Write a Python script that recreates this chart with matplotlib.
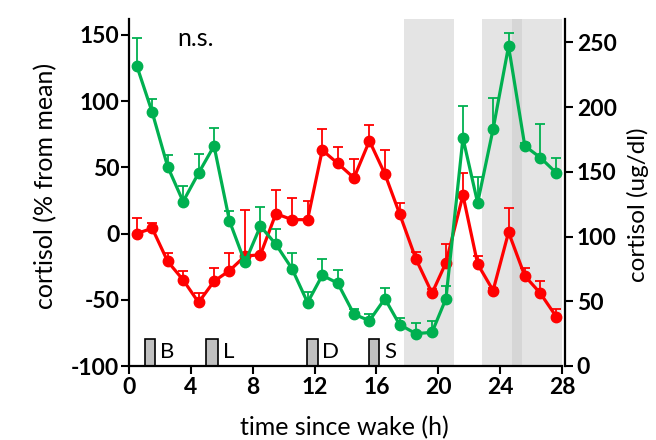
import numpy as np
import matplotlib.pyplot as plt
from matplotlib.patches import Rectangle

plt.rcParams['font.family'] = ['Lato', 'DejaVu Sans']
plt.rcParams['axes.unicode_minus'] = False

# time points (h since wake)
hours = [0.5, 1.5, 2.5, 3.5, 4.5, 5.5, 6.5, 7.5, 8.5, 9.5, 10.55, 11.55, 12.5, 13.5,
         14.55, 15.55, 16.55, 17.5, 18.55, 19.6, 20.5, 21.6, 22.55, 23.55, 24.55, 25.6, 26.6, 27.65]

# cortisol, % from mean (left axis, red)
pct_mean = [0, 4, -21, -35, -52, -36, -28, -17, -16, 15, 10.5, 10.5, 63, 53,
            42, 70, 45, 15, -19, -45, -22, 29, -23, -43, 1, -32, -45, -63]
pct_err = [12, 4, 6, 7, 7, 10, 13, 35, 21, 18, 16, 14, 16, 12,
           14, 12, 18, 8, 5, 3, 14, 17, 6, 2, 18, 6, 9, 6]

# cortisol, ug/dl (right axis, green)
ugdl = [232, 196, 154, 127, 149, 170, 112, 80, 108, 94, 75, 49, 70, 64,
        40, 35, 52, 32, 25, 26, 52, 176, 126, 183, 247, 170, 161, 149]
ugdl_err = [21, 10, 9, 12, 15, 14, 8, 4, 15, 12, 12, 8, 13, 10,
            4, 5, 8, 5, 8, 9, 10, 25, 20, 24, 10, 2, 26, 12]

# shaded (sleep) periods
sleep_start = [17.8, 22.85, 24.75]
sleep_end = [21.0, 25.45, 28.0]

# meals
meal_labels = ['B', 'L', 'D', 'S']
meal_start = [1.05, 5.0, 11.5, 15.5]
meal_end = [1.7, 5.75, 12.2, 16.2]

fig = plt.figure(figsize=(6.56, 4.4), dpi=100)
ax = fig.add_axes([129 / 656, 74 / 440, 436 / 656, 347 / 440])
ax2 = ax.twinx()

# shading
for s, e in zip(sleep_start, sleep_end):
    ax.axvspan(s, e, color='#e4e4e4', lw=0, zorder=0)
for i in range(len(sleep_start) - 1):
    lo = max(sleep_start[i], sleep_start[i + 1])
    hi = min(sleep_end[i], sleep_end[i + 1])
    if hi > lo:
        ax.axvspan(lo, hi, color='#d6d6d6', lw=0, zorder=0)

# meal boxes
for lab, s, e in zip(meal_labels, meal_start, meal_end):
    ax.add_patch(Rectangle((s, -100), e - s, 20.5, facecolor='#c0c0c0',
                           edgecolor='black', lw=1.2, zorder=2, clip_on=False))
    ax.text(e + 0.3, -89.5, lab, fontsize=16, va='center', ha='left')

red = '#ff0000'
green = '#00b050'
ax.errorbar(hours, pct_mean, yerr=[np.zeros(len(pct_err)), pct_err], color=red,
            lw=2.3, marker='o', ms=7.5, elinewidth=1.3, capsize=3.5, capthick=1.3,
            zorder=3)
ax2.errorbar(hours, ugdl, yerr=[np.zeros(len(ugdl_err)), ugdl_err], color=green,
             lw=2.3, marker='o', ms=7.5, elinewidth=1.3, capsize=3.5, capthick=1.3,
             zorder=3)

ax.text(3.1, 147, 'n.s.', fontsize=18, va='center', ha='left')

ax.set_xlim(0, 28.2)
ax.set_ylim(-100, 162)
ax2.set_ylim(0, 268)

ax.set_xticks(range(0, 29, 4))
ax.set_yticks([-100, -50, 0, 50, 100, 150])
ax2.set_yticks([0, 50, 100, 150, 200, 250])

for a in (ax, ax2):
    a.tick_params(direction='out', length=5.5, width=1.5, labelsize=16.5)
    for lab in a.get_xticklabels() + a.get_yticklabels():
        lab.set_fontweight('bold')
    for sp in a.spines.values():
        sp.set_linewidth(1.6)
ax.tick_params(axis='y', pad=1.5)
ax.tick_params(axis='x', pad=2.5)
ax2.tick_params(axis='y', pad=3)

ax.spines['top'].set_visible(False)
ax.spines['right'].set_visible(False)
ax.spines['bottom'].set_bounds(0, 28)
ax2.spines['top'].set_visible(False)
ax2.spines['left'].set_visible(False)
ax2.spines['bottom'].set_visible(False)

ax.set_xlabel('time since wake (h)', fontsize=18)
ax.set_ylabel('cortisol (% from mean)', fontsize=18)
ax2.set_ylabel('cortisol (ug/dl)', fontsize=17.5)
ax.xaxis.set_label_coords(0.493, -0.143)
ax.yaxis.set_label_coords(-0.165, 0.52)
ax2.yaxis.set_label_coords(1.143, 0.464)

fig.savefig('out.png', dpi=100)
